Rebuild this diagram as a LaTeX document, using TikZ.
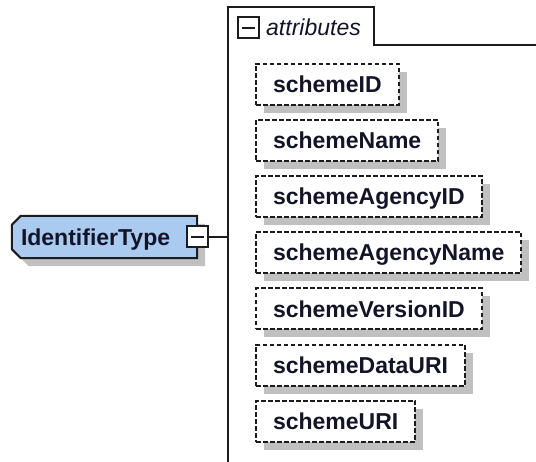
\documentclass[tikz,border=0pt]{standalone}
\usepackage{fontspec}
\setmainfont{Liberation Sans}
\usetikzlibrary{shadows}
\definecolor{typeblue}{RGB}{170,202,240}
\definecolor{shadowgray}{RGB}{192,192,192}
\definecolor{linedark}{RGB}{28,28,28}
\definecolor{textdark}{RGB}{20,20,40}
\begin{document}
\begin{tikzpicture}[x=1pt,y=-1pt,
  attrbox/.style={draw=linedark, line width=2pt, dash pattern=on 4.5pt off 2.5pt,
    fill=white, anchor=west, minimum height=41pt, inner xsep=17pt, inner ysep=0pt,
    text height=16.5pt, text depth=0pt, text=textdark,
    font=\bfseries\fontsize{23}{27}\selectfont,
    drop shadow={shadow xshift=8pt, shadow yshift=-8pt, opacity=1, fill=shadowgray, draw=none}},
  minusbox/.style={draw=linedark, line width=2pt, fill=white, minimum size=21pt,
    inner sep=0pt,
    path picture={\draw[line width=2pt, linedark]
      ([xshift=-6.5pt]path picture bounding box.center) --
      ([xshift=6.5pt]path picture bounding box.center);}},
  frame/.style={draw=linedark, line width=2pt},
  typetext/.style={inner xsep=9pt, inner ysep=0pt, text width=167pt, align=left,
    minimum height=42pt, text height=16.5pt, text depth=0pt, text=textdark,
    font=\bfseries\fontsize{23}{27}\selectfont}
]
\useasboundingbox (0,0) rectangle (536,461);

% attributes container
\coordinate (spinetop) at (228,7);
\coordinate (spinebot) at (228,462);
\coordinate (tabtr) at (374,7);
\coordinate (tabbr) at (374,45);
\coordinate (tabedge) at (537,45);
\draw[frame] (spinebot) -- (spinetop) -- (tabtr) -- (tabbr) -- (tabedge);
\node[minusbox] (am) at (248.5,27.5) {};
\node[anchor=west, inner sep=0pt, text height=16.5pt, text depth=0pt, text=textdark,
  font=\itshape\fontsize{23}{27}\selectfont] (alabel) at (266,27.5) {attributes};

% attribute boxes
\node[attrbox] (a1) at (255,84.0) {schemeID};
\node[attrbox] (a2) at (255,140.2) {schemeName};
\node[attrbox] (a3) at (255,196.4) {schemeAgencyID};
\node[attrbox] (a4) at (255,252.6) {schemeAgencyName};
\node[attrbox] (a5) at (255,308.8) {schemeVersionID};
\node[attrbox] (a6) at (255,365.0) {schemeDataURI};
\node[attrbox] (a7) at (255,421.2) {schemeURI};

% IdentifierType
\node[typetext] (it) at (104.5,237) {};
\fill[shadowgray, transform canvas={xshift=8pt, yshift=-8pt}]
  ([xshift=9pt]it.north west) -- (it.north east) -- (it.south east) --
  ([xshift=9pt]it.south west) -- ([yshift=9pt]it.south west) --
  ([yshift=-9pt]it.north west) -- cycle;
\draw[line width=2pt, draw=linedark, fill=typeblue]
  ([xshift=9pt]it.north west) -- (it.north east) -- (it.south east) --
  ([xshift=9pt]it.south west) -- ([yshift=9pt]it.south west) --
  ([yshift=-9pt]it.north west) -- cycle;
\node[typetext] at (it.center) {IdentifierType};
\node[minusbox] (itm) at (197.5,236.5) {};
\draw[frame] (itm.east) -- (itm.east -| spinetop);
\end{tikzpicture}
\end{document}
